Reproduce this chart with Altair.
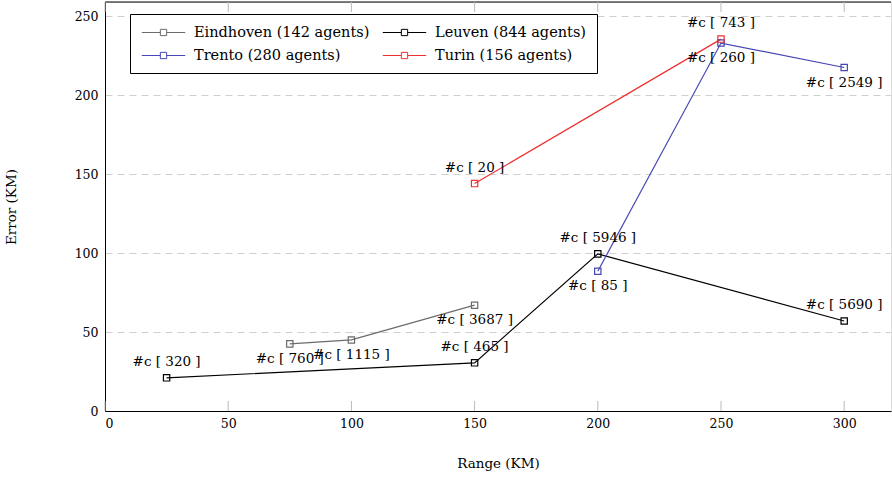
import altair as alt
import pandas as pd

# ---- data ----
series_names = ["Eindhoven (142 agents)", "Leuven (844 agents)", "Trento (280 agents)", "Turin (156 agents)"]
series_colors = ["#6b6b6b", "#000000", "#4646b4", "#ee3030"]

eind_x = [75, 100, 150]
eind_y = [42.5, 45.0, 67.0]
eind_c = [760, 1115, 3687]
eind_side = ["below", "below", "below"]

leu_x = [25, 150, 200, 300]
leu_y = [21.0, 30.5, 99.5, 57.0]
leu_c = [320, 465, 5946, 5690]
leu_side = ["above", "above", "above", "above"]

tre_x = [200, 250, 300]
tre_y = [88.5, 233.0, 217.5]
tre_c = [85, 260, 2549]
tre_side = ["below", "below", "below"]

tur_x = [150, 250]
tur_y = [144.0, 235.5]
tur_c = [20, 743]
tur_side = ["above", "above"]

x_ticks = [0, 50, 100, 150, 200, 250, 300]
y_ticks = [0, 50, 100, 150, 200, 250]

rows = []
for name, xs, ys, cs, sides in [
    (series_names[0], eind_x, eind_y, eind_c, eind_side),
    (series_names[1], leu_x, leu_y, leu_c, leu_side),
    (series_names[2], tre_x, tre_y, tre_c, tre_side),
    (series_names[3], tur_x, tur_y, tur_c, tur_side),
]:
    for x, y, c, s in zip(xs, ys, cs, sides):
        rows.append({"series": name, "range": x, "error": y, "label": f"#c [ {c} ]", "side": s})
df = pd.DataFrame(rows)

FONT = "DejaVu Serif"
W, H = 786, 409

xs = alt.Scale(domain=[0, 319], nice=False, zero=False)
ys = alt.Scale(domain=[0, 259], nice=False, zero=False)
color = alt.Color(
    "series:N",
    scale=alt.Scale(domain=series_names, range=series_colors),
    legend=alt.Legend(
        title=None,
        orient="none",
        legendX=25,
        legendY=12,
        columns=2,
        direction="horizontal",
        symbolType="M-3.1,0H-0.45M0.45,0H3.1M-0.45,-0.45H0.45V0.45H-0.45Z",
        symbolSize=196,
        symbolOffset=15,
        symbolStrokeWidth=1,
        symbolFillColor="transparent",
        labelFont=FONT,
        labelFontSize=14.5,
        labelColor="#000",
        labelLimit=400,
        strokeColor="#000",
        fillColor="#fff",
        padding=11,
        rowPadding=8,
        columnPadding=10,
        labelOffset=23,
    ),
)

base = alt.Chart(df)

xax = alt.Axis(values=x_ticks, title="Range (KM)", grid=False, ticks=False,
               domainColor="#000", labelFont=FONT, labelFontSize=12.5, labelColor="#000",
               titleFont=FONT, titleFontSize=13.5, titleFontWeight="normal", titleColor="#000",
               labelPadding=6, titlePadding=27)
yax = alt.Axis(values=y_ticks, title="Error (KM)", grid=True, gridDash=[7, 5], gridColor="#cfcfcf",
               ticks=False, domainColor="#000", labelFont=FONT, labelFontSize=12.5, labelColor="#000",
               titleFont=FONT, titleFontSize=13.5, titleFontWeight="normal", titleColor="#000",
               labelPadding=7, titlePadding=56)

lines = base.mark_line(strokeWidth=1.2).encode(
    x=alt.X("range:Q", scale=xs, axis=xax),
    y=alt.Y("error:Q", scale=ys, axis=yax),
    color=color,
    detail="series:N",
)
points = base.mark_point(shape="square", filled=False, size=40, strokeWidth=1.2, opacity=1).encode(
    x=alt.X("range:Q", scale=xs),
    y=alt.Y("error:Q", scale=ys),
    color=alt.Color("series:N", scale=alt.Scale(domain=series_names, range=series_colors), legend=None),
)
lab_above = base.transform_filter(alt.datum.side == "above").mark_text(
    font=FONT, fontSize=13.5, color="#000", dy=-16
).encode(x=alt.X("range:Q", scale=xs), y=alt.Y("error:Q", scale=ys), text="label:N")
lab_below = base.transform_filter(alt.datum.side == "below").mark_text(
    font=FONT, fontSize=13.5, color="#000", dy=15
).encode(x=alt.X("range:Q", scale=xs), y=alt.Y("error:Q", scale=ys), text="label:N")

xt = pd.DataFrame({"t": x_ticks})
ticks_bottom = alt.Chart(xt).mark_rule(color="#bbbbbb", strokeWidth=1).encode(
    x=alt.X("t:Q", scale=xs), y=alt.value(H), y2=alt.value(H - 10))
ticks_top = alt.Chart(xt).mark_rule(color="#bbbbbb", strokeWidth=1).encode(
    x=alt.X("t:Q", scale=xs), y=alt.value(0), y2=alt.value(10))
top_line = alt.Chart(pd.DataFrame({"a": [0]})).mark_rule(color="#000", strokeWidth=1).encode(
    x=alt.value(0), x2=alt.value(W), y=alt.value(0))

chart = alt.layer(top_line, ticks_bottom, ticks_top, lines, points, lab_above, lab_below).properties(
    width=W, height=H,
    padding={"left": 105, "top": 2, "right": 1, "bottom": 69},
    autosize=alt.AutoSizeParams(type="none"),
).configure_view(stroke=None).configure(background="#ffffff")

chart.save("out.html", embed_options={"renderer": "svg", "actions": False})
